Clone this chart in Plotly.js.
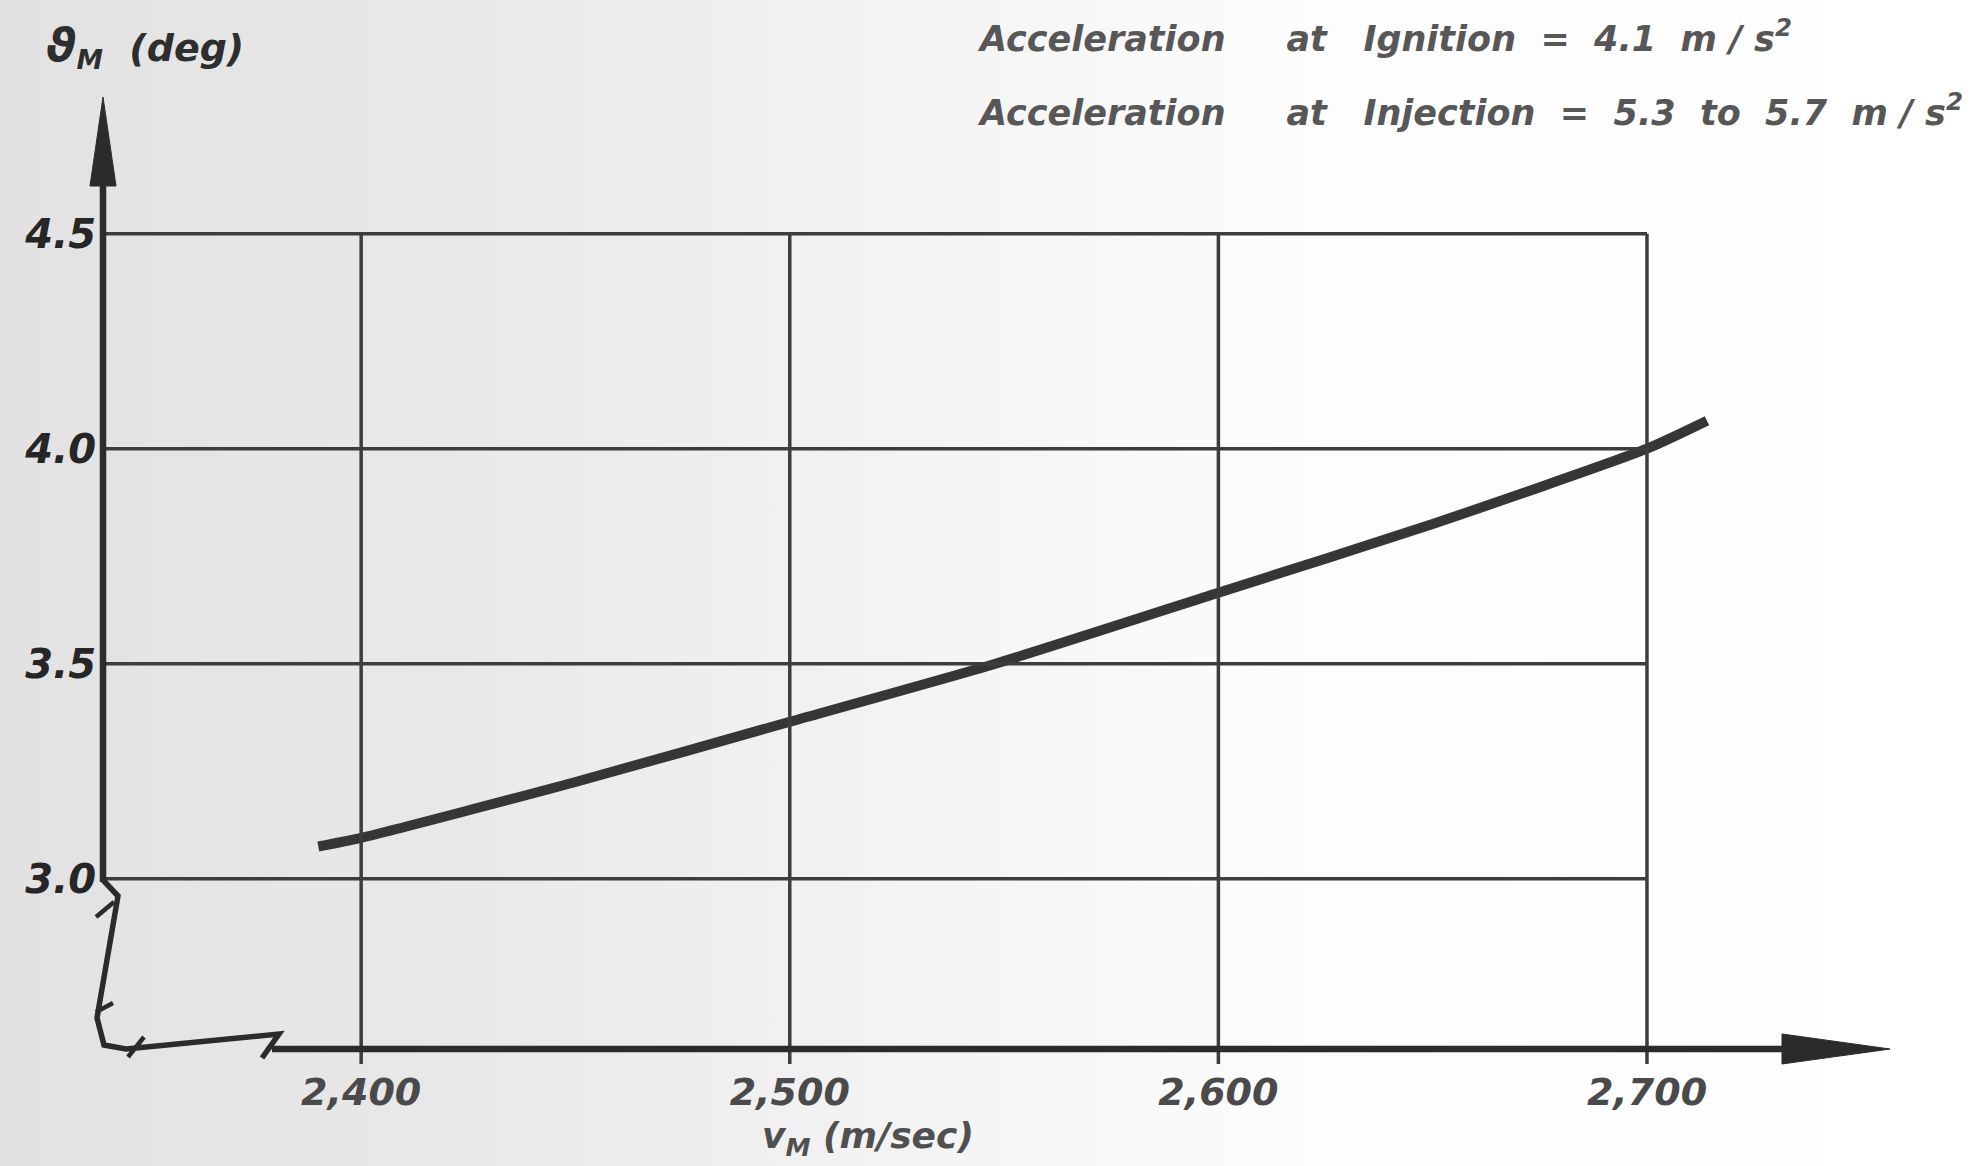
<!DOCTYPE html>
<html>
<head>
<meta charset="utf-8">
<script src="https://cdn.plot.ly/plotly-3.0.1.min.js"></script>
<style>
html,body{margin:0;padding:0;}
body{width:1986px;height:1166px;overflow:hidden;
background:linear-gradient(to right,#e2e2e2 0%,#e8e8e8 22%,#f3f3f3 45%,#fcfcfc 65%,#ffffff 100%);}
#chart{width:1986px;height:1166px;}
</style>
</head>
<body>
<div id="chart"></div>
<script>
// ---- data ----
const velocity = [2390, 2400, 2450, 2500, 2548, 2600, 2650, 2700, 2714];
const theta    = [3.075, 3.095, 3.225, 3.365, 3.50, 3.665, 3.825, 4.00, 4.065];

const xTickVals = [2400, 2500, 2600, 2700];
const xTickText = ['2,400', '2,500', '2,600', '2,700'];
const yTickVals = [3.0, 3.5, 4.0, 4.5];
const yTickText = ['3.0', '3.5', '4.0', '4.5'];

const NB = '\u00a0';
const xTitle = 'v<sub>M</sub>' + NB + '(m/sec)';
const yTitle = '<span style="font-size:46px">\u03D1</span><sub>M</sub>' + NB.repeat(2) + '(deg)';
const unitText = 'm' + NB + '/' + NB + 's<sup>2</sup>';
const noteLine1 = 'Acceleration' + NB.repeat(5) + 'at' + NB.repeat(3) + 'Ignition' + NB.repeat(2) + '=' + NB.repeat(2) + '4.1' + NB.repeat(2) + unitText;
const noteLine2 = 'Acceleration' + NB.repeat(5) + 'at' + NB.repeat(3) + 'Injection' + NB.repeat(2) + '=' + NB.repeat(2) + '5.3' + NB.repeat(2) + 'to' + NB.repeat(2) + '5.7' + NB.repeat(2) + unitText;

// ---- geometry ----
const W = 1986, H = 1166;
const M = {l: 101, r: 99, t: 97, b: 117};
const xRange = [2339.3, 2756];
const yRange = [2.604, 4.818];
const pw = W - M.l - M.r, ph = H - M.t - M.b;
const x2px = x => M.l + (x - xRange[0]) / (xRange[1] - xRange[0]) * pw;
const y2py = y => H - M.b - (y - yRange[0]) / (yRange[1] - yRange[0]) * ph;
// paper coordinates (not clipped to the plot area)
const pxp = px => (px - M.l) / pw;
const pyp = py => (H - M.b - py) / ph;

const gridColor = '#3d3d3d';
const axisColor = '#2b2b2b';
const shapes = [];

function pathFrom(pts, close) {
  return pts.map((p, i) => (i ? 'L' : 'M') + pxp(p[0]).toFixed(5) + ',' + pyp(p[1]).toFixed(5)).join(' ') + (close ? ' Z' : '');
}
function seg(pts, width, close) {
  shapes.push({type:'path', xref:'paper', yref:'paper', path: pathFrom(pts, close),
    line:{color: close ? axisColor : (width < 4 ? gridColor : axisColor), width: width},
    fillcolor: close ? axisColor : undefined});
}

const topY = y2py(yTickVals[yTickVals.length-1]);
const rightX = x2px(xTickVals[xTickVals.length-1]);
// horizontal grid lines
yTickVals.forEach(v => seg([[103, y2py(v)], [rightX, y2py(v)]], 3.5));
// vertical grid lines (with short tick below the baseline)
xTickVals.forEach(v => seg([[x2px(v), topY], [x2px(v), 1064]], 3.5));

// y axis with arrow
seg([[103,180],[103,882]], 6.5);
seg([[90,186],[103,97],[116,186]], 1, true);
// axis break (lower left)
seg([[103,880],[118,896],[97,1018],[104,1045],[126,1049],[279,1034],[262,1058]], 5.5);
seg([[96,917],[114,902]], 4.5);
seg([[96,1012],[113,1003]], 4.5);
seg([[128,1057],[144,1037]], 4.5);
// x axis with arrow
seg([[272,1049],[1790,1049]], 6.5);
seg([[1782,1034],[1890,1049],[1782,1064]], 1, true);

const traces = [{
  x: velocity, y: theta, type:'scatter', mode:'lines',
  line:{color:'#363636', width:10, shape:'spline', smoothing:0.6},
  hoverinfo:'x+y', showlegend:false
}];

const noteFont = {family:'DejaVu Sans', size:35, color:'#575757', weight:'bold', style:'italic'};
const annotations = [
  {text: noteLine1, xref:'paper', yref:'paper', x: pxp(975), y: 1, xanchor:'left', yanchor:'middle', yshift: M.t - 36, showarrow:false, font: noteFont},
  {text: noteLine2, xref:'paper', yref:'paper', x: pxp(975), y: 1, xanchor:'left', yanchor:'middle', yshift: M.t - 110, showarrow:false, font: noteFont},
  {text: yTitle, xref:'paper', yref:'paper', x: pxp(44), y: 1, xanchor:'left', yanchor:'middle', yshift: M.t - 46, showarrow:false,
   font:{family:'DejaVu Sans', size:38, color:'#2e2e2e', weight:'bold', style:'italic'}},
  {text: xTitle, xref:'paper', yref:'paper', x: pxp(760), y: 0, xanchor:'left', yanchor:'middle', yshift: -(1138 - (H - M.b)), showarrow:false,
   font:{family:'DejaVu Sans', size:36, color:'#505050', weight:'bold', style:'italic'}}
];

const layout = {
  width: W, height: H,
  margin: M,
  paper_bgcolor:'rgba(0,0,0,0)', plot_bgcolor:'rgba(0,0,0,0)',
  showlegend:false,
  xaxis:{range:xRange, showgrid:false, zeroline:false, showline:false, ticks:'',
    tickmode:'array', tickvals:xTickVals, ticktext:xTickText, ticklabelstandoff:17,
    tickfont:{family:'DejaVu Sans', size:38, color:'#4a4a4a', weight:'bold', style:'italic'}, fixedrange:true},
  yaxis:{range:yRange, showgrid:false, zeroline:false, showline:false, ticks:'',
    tickmode:'array', tickvals:yTickVals, ticktext:yTickText, ticklabelstandoff:4,
    tickfont:{family:'DejaVu Sans', size:40, color:'#262626', weight:'bold', style:'italic'}, fixedrange:true},
  shapes: shapes,
  annotations: annotations
};

Plotly.newPlot('chart', traces, layout, {displayModeBar:false, staticPlot:true});
</script>
</body>
</html>
